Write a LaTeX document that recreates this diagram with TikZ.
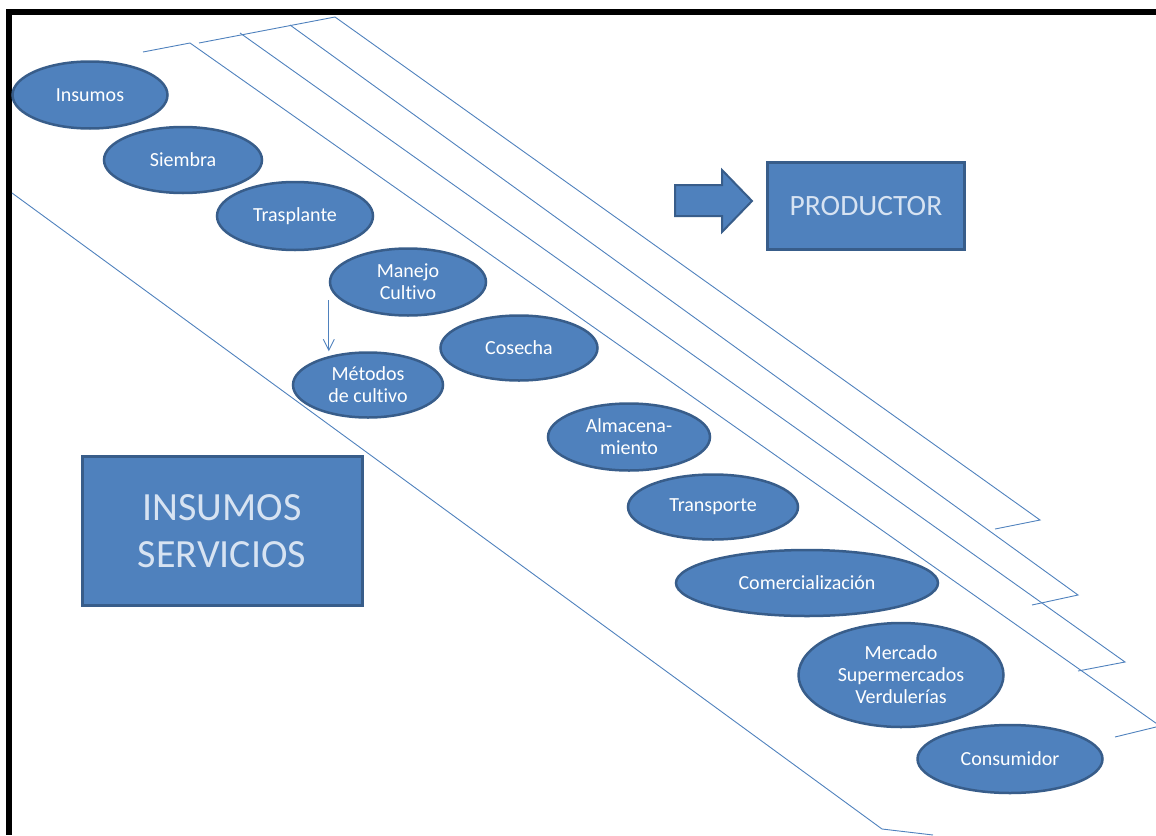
\documentclass[tikz,border=0pt]{standalone}
\usepackage{fontspec}
\setmainfont[Ligatures=NoCommon]{Carlito}
\usetikzlibrary{shapes.geometric,arrows.meta}
\definecolor{fillblue}{RGB}{79,129,189}
\definecolor{edgeblue}{RGB}{56,93,138}
\definecolor{paleblue}{RGB}{215,227,242}

\begin{document}
\begin{tikzpicture}[
  x=1pt, y=-1pt,
  stage/.style={ellipse, draw=edgeblue, line width=2.5pt, fill=fillblue,
    text=white, inner sep=0pt, align=center,
    font=\fontsize{20}{22}\selectfont},
  bigbox/.style={rectangle, draw=edgeblue, line width=3pt, fill=fillblue,
    text=paleblue, inner sep=0pt, align=center},
  guide/.style={draw=fillblue, line width=0.9pt},
  arrowline/.style={guide, -{Straight Barb[length=11pt, width=11pt]}}
]
  \useasboundingbox (0,0) rectangle (1156,835);

  % frame bars
  \fill[black] (6,9) rectangle (1156,15);
  \fill[black] (6,9) rectangle (12,835);

  % guide lines of the chain
  \draw[guide] (12,193) -- (882,829) -- (933,835);
  \draw[guide] (143,52) -- (190,43) -- (1160,726);
  \draw[guide] (1115,737) -- (1156,727);
  \draw[guide] (199,43) -- (335,17) -- (1040,520) -- (995,529);
  \draw[guide] (240,33) -- (1125,662) -- (1078,671);
  \draw[guide] (290,25) -- (1078,595) -- (1032,605);

  % stages
  \node[stage, minimum width=155pt, minimum height=67pt] (insumos) at (90,95) {Insumos};
  \node[stage, minimum width=158pt, minimum height=66pt] (siembra) at (183,160) {Siembra};
  \node[stage, minimum width=156pt, minimum height=68pt] (trasplante) at (295,216) {Trasplante};
  \node[stage, minimum width=156pt, minimum height=67pt] (manejo) at (408,282) {Manejo\\Cultivo};
  \node[stage, minimum width=150pt, minimum height=65pt] (metodos) at (368,385) {Métodos\\de cultivo};
  \node[stage, minimum width=157pt, minimum height=65pt] (cosecha) at (519,348) {Cosecha};
  \node[stage, minimum width=162pt, minimum height=67pt] (almacen) at (629,437) {Almacena-\\miento};
  \node[stage, minimum width=170pt, minimum height=65pt] (transporte) at (713,507) {Transporte};
  \node[stage, minimum width=262pt, minimum height=66pt] (comercio) at (807,583) {Comercialización};
  \node[stage, minimum width=205pt, minimum height=104pt] (mercado) at (901,675) {Mercado\\Supermercados\\Verdulerías};
  \node[stage, minimum width=185pt, minimum height=68pt] (consumidor) at (1010,759) {Consumidor};

  \draw[arrowline] ([yshift=-18pt]manejo.west) -- (manejo.west |- metodos.north);

  % boxes
  \node[bigbox, minimum width=280pt, minimum height=149pt,
    font=\fontsize{40}{47}\selectfont] (servicios) at (222,531) {INSUMOS\\SERVICIOS};
  \node[bigbox, minimum width=197pt, minimum height=87pt,
    font=\fontsize{29.5}{35}\selectfont] (productor) at (866,206) {PRODUCTOR};

  % block arrow
  \filldraw[fill=fillblue, draw=edgeblue, line width=2pt]
    (675,185) -- (722,185) -- (722,170) -- (752,201) -- (722,232)
    -- (722,216) -- (675,216) -- cycle;
\end{tikzpicture}
\end{document}
